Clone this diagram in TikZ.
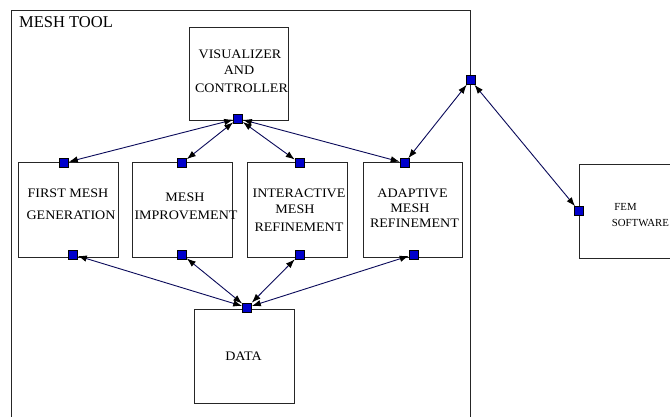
\documentclass[tikz,border=0pt]{standalone}
\usepackage{fontspec}
\setmainfont{Liberation Serif}
\newfontfamily\boxfont[FakeStretch=1.08]{Liberation Serif}
\usetikzlibrary{arrows.meta}
\definecolor{portblue}{RGB}{0,0,204}
\definecolor{navyline}{RGB}{10,10,90}
\tikzset{
  box/.style={draw=black!85, line width=0.9pt, rectangle, inner sep=0pt, minimum width=100pt, minimum height=95pt},
  port/.style={draw=black, line width=0.6pt, fill=portblue, rectangle, inner sep=0pt, minimum size=9pt},
  conn/.style={draw=navyline, line width=0.9pt, {Latex[length=9pt,width=6.5pt,color=black]}-{Latex[length=9pt,width=6.5pt,color=black]}},
  lbl/.style={anchor=base, inner sep=0pt, font=\boxfont\fontsize{13}{15}\selectfont},
  small/.style={inner sep=0pt, font=\fontsize{10.8}{12}\selectfont},
}
\begin{document}
\begin{tikzpicture}[x=1pt,y=-1pt]
\clip (0,0) rectangle (670,417);
\fill[white] (0,0) rectangle (670,417);
% outer mesh tool container
\node[draw=black!85, line width=0.9pt, rectangle, inner sep=0pt, minimum width=459pt, minimum height=440pt] (tool) at (240.5,230) {};
\node[anchor=base west, inner sep=0pt, font=\fontsize{16.5}{18}\selectfont] (tooltitle) at (19,28) {MESH TOOL};
% boxes
\node[box, minimum width=99pt, minimum height=93pt] (vc) at (238.5,73.5) {};
\node[box] (b1) at (68,209.5) {};
\node[box] (b2) at (182,209.5) {};
\node[box] (b3) at (297,209.5) {};
\node[box, minimum width=99pt] (b4) at (412.5,209.5) {};
\node[box, minimum height=94pt] (data) at (244,356) {};
\node[box, minimum height=94pt] (fem) at (629,211) {};
% texts
\node[lbl] (vc1) at (240,58.3) {VISUALIZER};
\node[lbl] (vc2) at (239,75) {AND};
\node[lbl] (vc3) at (241.5,92.7) {CONTROLLER};
\node[lbl] (t1a) at (68,197.7) {FIRST MESH};
\node[lbl] (t1b) at (71,219.3) {GENERATION};
\node[lbl] (t2a) at (185,201) {MESH};
\node[lbl] (t2b) at (186,219.3) {IMPROVEMENT};
\node[lbl] (t3a) at (299,197.7) {INTERACTIVE};
\node[lbl] (t3b) at (295,214) {MESH};
\node[lbl] (t3c) at (299,232) {REFINEMENT};
\node[lbl] (t4a) at (412.5,197.7) {ADAPTIVE};
\node[lbl] (t4b) at (410,212) {MESH};
\node[lbl] (t4c) at (414.5,228) {REFINEMENT};
\node[lbl] (td) at (243.5,360) {DATA};
\node[small, anchor=base] (tf1) at (625.5,211) {FEM};
\node[small, anchor=base west] (tf2) at (611.7,226) {SOFTWARE};
% ports
\node[port] (pvc) at (238,118.5) {};
\node[port] (p1t) at (64,163) {};
\node[port] (p2t) at (182,163) {};
\node[port] (p3t) at (299.5,163) {};
\node[port] (p4t) at (404.5,163) {};
\node[port] (p1b) at (73,254.5) {};
\node[port] (p2b) at (182,254.5) {};
\node[port] (p3b) at (299.5,254.5) {};
\node[port] (p4b) at (413.5,254.5) {};
\node[port] (pd) at (247,307.5) {};
\node[port] (pj) at (470.5,80) {};
\node[port] (pf) at (579,211) {};
% connectors
\draw[conn] (pvc) -- (p1t);
\draw[conn] (pvc) -- (p2t);
\draw[conn] (pvc) -- (p3t);
\draw[conn] (pvc) -- (p4t);
\draw[conn] (pd) -- (p1b);
\draw[conn] (pd) -- (p2b);
\draw[conn] (pd) -- (p3b);
\draw[conn] (pd) -- (p4b);
\draw[conn] (pj) -- (p4t);
\draw[conn] (pj) -- (pf);
\end{tikzpicture}
\end{document}
